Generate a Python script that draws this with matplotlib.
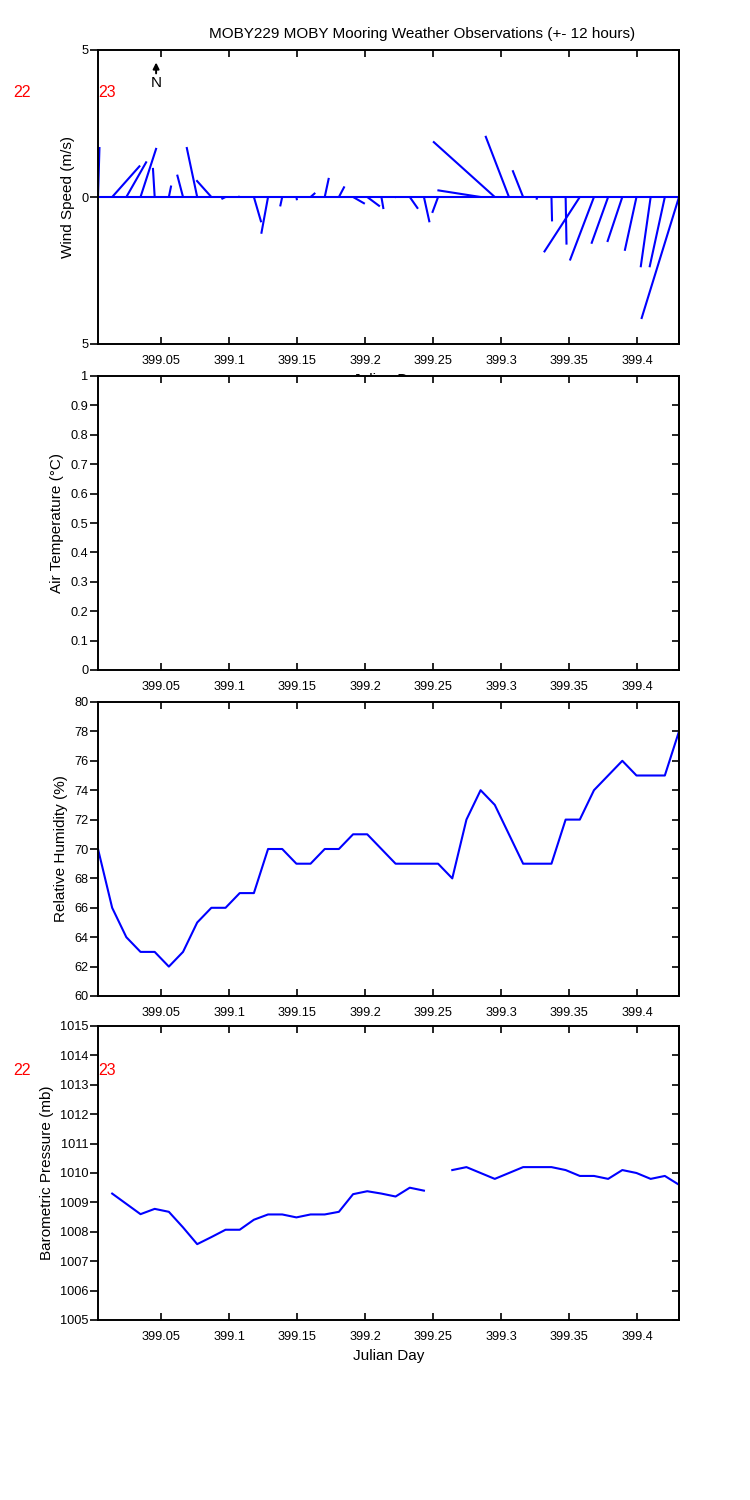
"""
MOBY229 mooring weather observations: wind sticks, air temperature,
relative humidity and barometric pressure against Julian day.
"""

import numpy as np
import matplotlib
matplotlib.use("Agg")
import matplotlib.pyplot as plt

plt.rcParams['font.family'] = ['Liberation Sans', 'DejaVu Sans']

# 15 minute samples starting at 00:05 of day 399
day_start = 399 + 5 / 1440
step = 15 / 1440
n_obs = 42

# wind components (m/s), one stick per sample
wind_u = [0.05, 0.95, 0.69, 0.54, -0.06, 0.08, -0.20, -0.36, -0.51, -0.14,
          -0.05, 0.25, -0.23, -0.07, 0.02, 0.16, 0.14, 0.19, 0.40, 0.43,
          0.07, 0.02, 0.28, 0.19, -0.20, 0.0, 0.0, -1.47, -2.10, -0.80,
          -0.36, -0.03, 0.02, 0.03, -1.22, -0.82, -0.57, -0.51, -0.40, -0.34,
          -0.52, -1.28]
wind_v = [1.70, 1.07, 1.21, 1.67, 0.99, 0.39, 0.76, 1.70, 0.57, -0.07,
          0.02, -0.86, -1.25, -0.32, -0.11, 0.14, 0.65, 0.36, -0.23, -0.32,
          -0.41, -0.02, -0.40, -0.86, -0.54, 0.0, 0.0, 0.23, 1.89, 2.08,
          0.91, -0.09, -0.83, -1.62, -1.88, -2.16, -1.59, -1.53, -1.83, -2.39,
          -2.39, -4.15]

# no air temperature reported for this window
air_temp = []

humidity = [70, 66, 64, 63, 63, 62, 63, 65, 66, 66,
            67, 67, 70, 70, 69, 69, 70, 70, 71, 71,
            70, 69, 69, 69, 69, 68, 72, 74, 73, 71,
            69, 69, 69, 72, 72, 74, 75, 76, 75, 75,
            75, 78]

pressure = [np.nan, 1009.30, 1008.95, 1008.60, 1008.78, 1008.68, 1008.15, 1007.58, 1007.82, 1008.07,
            1008.07, 1008.41, 1008.59, 1008.59, 1008.49, 1008.59, 1008.59, 1008.68, 1009.28, 1009.38,
            1009.30, 1009.20, 1009.50, 1009.40, np.nan, 1010.10, 1010.20, 1010.00, 1009.80, 1010.00,
            1010.20, 1010.20, 1010.20, 1010.10, 1009.90, 1009.90, 1009.80, 1010.10, 1010.00, 1009.80,
            1009.90, 1009.60]

xticks = [399.05, 399.1, 399.15, 399.2, 399.25, 399.3, 399.35, 399.4]
xtick_labels = ['399.05', '399.1', '399.15', '399.2', '399.25', '399.3', '399.35', '399.4']

wind_ticks = [-5, 0, 5]
wind_labels = ['5', '0', '5']
temp_ticks = [0, 0.1, 0.2, 0.3, 0.4, 0.5, 0.6, 0.7, 0.8, 0.9, 1]
temp_labels = ['0', '0.1', '0.2', '0.3', '0.4', '0.5', '0.6', '0.7', '0.8', '0.9', '1']
hum_ticks = [60, 62, 64, 66, 68, 70, 72, 74, 76, 78, 80]
pres_ticks = [1005, 1006, 1007, 1008, 1009, 1010, 1011, 1012, 1013, 1014, 1015]

hour_labels = ['22', '23']
hour_offsets = [-0.0622, 0.0]   # days relative to first sample

BLUE = '#0000ff'
FS = 9.2     # tick labels
LFS = 11     # axis labels


def style_axes(ax, t, yticks, ylabels=None):
    ax.set_xlim(t[0], t[-1])
    ax.set_xticks(xticks)
    ax.set_xticklabels(xtick_labels)
    ax.set_yticks(yticks)
    if ylabels is not None:
        ax.set_yticklabels(ylabels)
    ax.tick_params(axis='x', direction='in', length=5, width=1.2, top=True,
                   labelsize=FS, pad=8)
    # left ticks point out, right ticks point in
    ax.tick_params(axis='y', direction='out', length=6, width=1.2,
                   right=False, labelsize=FS, pad=1)
    sec = ax.secondary_yaxis('right')
    sec.set_yticks(yticks)
    sec.tick_params(direction='in', length=5, width=1.2, labelright=False)
    for sp in list(ax.spines.values()) + list(sec.spines.values()):
        sp.set_linewidth(1.4)


def main() -> None:
    t = day_start + step * np.arange(n_obs)

    fig = plt.figure(figsize=(7.5, 15), dpi=100)
    W, H = 750, 1500
    left, right = 98, 679
    panels = [(50, 344), (376, 670), (702, 996), (1026, 1320)]
    axes = []
    for y0, y1 in panels:
        ax = fig.add_axes([left / W, 1 - y1 / H, (right - left) / W, (y1 - y0) / H])
        axes.append(ax)
    ax_w, ax_t, ax_h, ax_p = axes

    # --- wind sticks ---
    ax_w.set_ylim(-5, 5)
    style_axes(ax_w, t, wind_ticks, wind_labels)
    # isotropic stick scaling: m/s in x-data units
    px_w = right - left
    px_h = panels[0][1] - panels[0][0]
    xs = (t[-1] - t[0]) / px_w * px_h / 10.0
    ax_w.plot(t, np.zeros(n_obs), color=BLUE, lw=1.5)
    for ti, u, v in zip(t, wind_u, wind_v):
        ax_w.plot([ti, ti + u * xs], [0, v], color=BLUE, lw=1.5,
                  solid_capstyle='butt')
    ax_w.annotate('', xy=(0.1, 0.967), xytext=(0.1, 0.911),
                  xycoords='axes fraction',
                  arrowprops=dict(arrowstyle='-|>', color='black', lw=1.4,
                                  mutation_scale=9))
    ax_w.text(0.1, 0.887, 'N', transform=ax_w.transAxes, ha='center',
              va='center', fontsize=LFS)
    ax_w.set_ylabel('Wind Speed (m/s)', fontsize=LFS, va='center')
    ax_w.yaxis.set_label_coords(-0.052, 0.5)
    ax_w.set_xlabel('Julian Day', fontsize=LFS)

    # --- air temperature (no data) ---
    ax_t.set_ylim(0, 1)
    style_axes(ax_t, t, temp_ticks, temp_labels)
    if air_temp:
        ax_t.plot(t, air_temp, color=BLUE, lw=1.5)
    ax_t.set_ylabel('Air Temperature (\u00b0C)', fontsize=LFS, va='center')
    ax_t.yaxis.set_label_coords(-0.070, 0.5)

    # --- relative humidity ---
    ax_h.plot(t, humidity, color=BLUE, lw=1.5)
    ax_h.set_ylim(60, 80)
    style_axes(ax_h, t, hum_ticks)
    ax_h.set_ylabel('Relative Humidity (%)', fontsize=LFS, va='center')
    ax_h.yaxis.set_label_coords(-0.063, 0.5)

    # --- barometric pressure ---
    ax_p.plot(t, pressure, color=BLUE, lw=1.5)
    ax_p.set_ylim(1005, 1015)
    style_axes(ax_p, t, pres_ticks)
    ax_p.set_ylabel('Barometric Pressure (mb)', fontsize=LFS, va='center')
    ax_p.yaxis.set_label_coords(-0.088, 0.5)
    ax_p.set_xlabel('Julian Day', fontsize=LFS)

    # red hour markers
    for lab, off in zip(hour_labels, hour_offsets):
        ax_w.text(t[0] + off, 3.57, lab, color='red', fontsize=11.5,
                  ha='left', va='center', clip_on=False)
        ax_p.text(t[0] + off, 1013.5, lab, color='red', fontsize=11.5,
                  ha='left', va='center', clip_on=False)

    fig.text(422 / W, 1 - 34 / H,
             'MOBY229 MOBY Mooring Weather Observations (+- 12 hours)',
             ha='center', va='center', fontsize=11)

    fig.savefig('out.png', dpi=100)


if __name__ == "__main__":
    main()
